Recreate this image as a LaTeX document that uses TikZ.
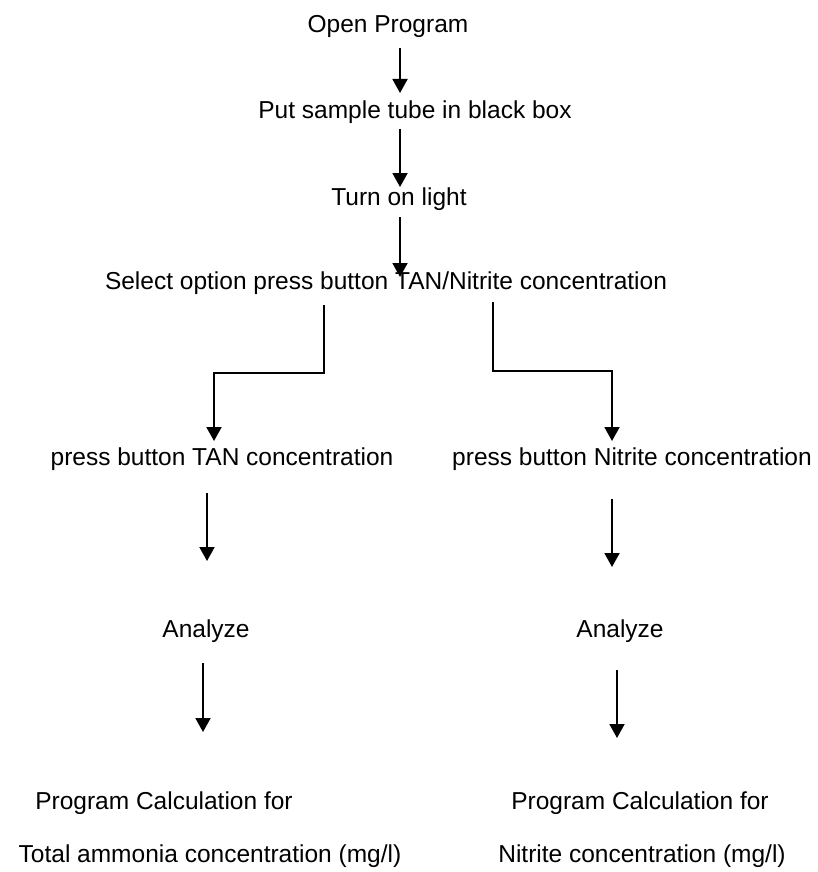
\documentclass[tikz,border=0pt]{standalone}
\usepackage{fontspec}
\setmainfont{Liberation Sans}
\usetikzlibrary{arrows.meta}
\tikzset{
  lbl/.style={anchor=base, inner sep=0pt, font=\fontsize{24.5}{29}\selectfont},
  flow/.style={line width=1.9pt, -{Triangle[width=15pt,length=14pt]}},
  elbow/.style={line width=1.9pt, -{Triangle[width=15pt,length=14pt]}}
}
\begin{document}
\begin{tikzpicture}[x=1pt,y=-1pt]
\useasboundingbox (0,0) rectangle (818,872);
% texts
\node[lbl] (open) at (388,33) {Open Program};
\node[lbl] (put) at (415,118) {Put sample tube in black box};
\node[lbl] (turn) at (399,205) {Turn on light};
\node[lbl] (sel) at (386,289) {Select option press button TAN/Nitrite concentration};
\node[lbl] (tan) at (222,465) {press button TAN concentration};
\node[lbl] (nit) at (632,465) {press button Nitrite concentration};
\node[lbl] (anl) at (206,637) {Analyze};
\node[lbl] (anr) at (620,637) {Analyze};
\node[lbl] (pcl) at (164,809) {Program Calculation for};
\node[lbl] (pcr) at (640,809) {Program Calculation for};
\node[lbl] (tot) at (210,862) {Total ammonia concentration (mg/l)};
\node[lbl] (nitc) at (642,862) {Nitrite concentration (mg/l)};
% connector end points
\coordinate (a1s) at (400,48);  \coordinate (a1e) at (400,93);
\coordinate (a2s) at (400,129); \coordinate (a2e) at (400,187);
\coordinate (a3s) at (400,217); \coordinate (a3e) at (400,277);
\coordinate (l0) at (324,305); \coordinate (l1) at (324,373);
\coordinate (l2) at (214,373); \coordinate (l3) at (214,441);
\coordinate (r0) at (493,302); \coordinate (r1) at (493,371);
\coordinate (r2) at (612,371); \coordinate (r3) at (612,441);
\coordinate (m1s) at (207,493); \coordinate (m1e) at (207,561);
\coordinate (m2s) at (612,499); \coordinate (m2e) at (612,567);
\coordinate (b1s) at (203,663); \coordinate (b1e) at (203,732);
\coordinate (b2s) at (617,670); \coordinate (b2e) at (617,738);
% connectors
\draw[flow] (a1s) -- (a1e);
\draw[flow] (a2s) -- (a2e);
\draw[flow] (a3s) -- (a3e);
\draw[elbow] (l0) -- (l1) -- (l2) -- (l3);
\draw[elbow] (r0) -- (r1) -- (r2) -- (r3);
\draw[flow] (m1s) -- (m1e);
\draw[flow] (m2s) -- (m2e);
\draw[flow] (b1s) -- (b1e);
\draw[flow] (b2s) -- (b2e);
\end{tikzpicture}
\end{document}
